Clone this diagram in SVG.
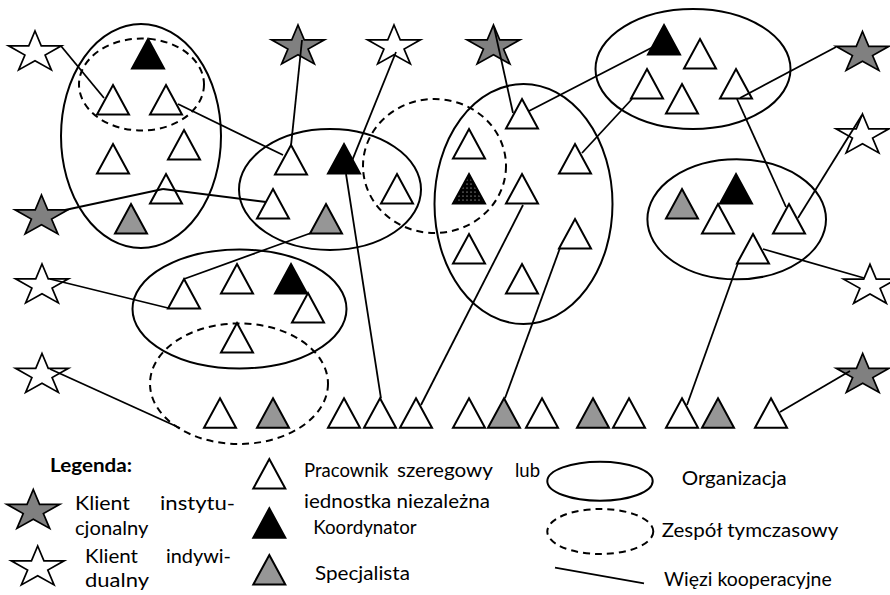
<svg xmlns="http://www.w3.org/2000/svg" xmlns:xlink="http://www.w3.org/1999/xlink" width="890" height="595" viewBox="0 0 890 595">
<defs>
<style>
.org{fill:none;stroke:#000;stroke-width:2}
.tmp{fill:none;stroke:#000;stroke-width:2;stroke-dasharray:7 5}
.tw{fill:#fff;stroke:#000;stroke-width:2}
.tb{fill:#000;stroke:#000;stroke-width:2}
.tg{fill:#969696;stroke:#000;stroke-width:2}
.td{fill:url(#dots);stroke:#000;stroke-width:2}
.sw{fill:#fff;stroke:#000;stroke-width:1.7}
.sg{fill:#808080;stroke:#000;stroke-width:1.7}
.ln{stroke:#000;stroke-width:1.8;fill:none}
text{font-family:Lato,"Open Sans","Liberation Sans",sans-serif;font-size:18.5px;fill:#000}
.b{font-weight:bold}
</style>
<pattern id="dots" width="4" height="4" patternUnits="userSpaceOnUse"><rect width="4" height="4" fill="#000"/><circle cx="2" cy="2" r="0.55" fill="#fff"/></pattern>
<path id="tri" d="M0,0 L16,29.5 L-16,29.5 Z"/>
<path id="star" d="M0,-21.5 L6.24,-6.64 L26.44,-6.64 L10.09,2.54 L16.35,17.39 L0,8.21 L-16.35,17.39 L-10.09,2.54 L-26.44,-6.64 L-6.24,-6.64 Z"/>
</defs>
<rect width="890" height="595" fill="#fff"/>

<g id="organizations">
<ellipse id="org-a" class="org" cx="141" cy="136" rx="80" ry="112"/>
<ellipse id="team-a" class="tmp" cx="141.5" cy="84.5" rx="62.5" ry="46"/>
<ellipse id="org-b" class="org" cx="330" cy="189.5" rx="91" ry="60.5"/>
<ellipse id="team-b" class="tmp" cx="434.5" cy="166" rx="71.5" ry="67"/>
<ellipse id="org-c" class="org" cx="523.5" cy="204" rx="89" ry="120"/>
<ellipse id="org-d" class="org" cx="693" cy="69" rx="97.5" ry="60"/>
<ellipse id="org-e" class="org" cx="736.7" cy="219.3" rx="89.3" ry="60"/>
<ellipse id="org-f" class="org" cx="239.5" cy="309" rx="107" ry="59.5"/>
<ellipse id="team-f" class="tmp" cx="239" cy="383.7" rx="89" ry="60.3"/>
</g>

<g id="n-t1"><use xlink:href="#tri" class="tb" x="148" y="39"/></g>
<g id="n-t2"><use xlink:href="#tri" class="tw" x="113" y="85"/></g>
<g id="n-t3"><use xlink:href="#tri" class="tw" x="166" y="85"/></g>
<g id="n-t4"><use xlink:href="#tri" class="tw" x="184" y="130"/></g>
<g id="n-t5"><use xlink:href="#tri" class="tw" x="113" y="144"/></g>
<g id="n-t6"><use xlink:href="#tri" class="tw" x="166" y="174"/></g>
<g id="n-t7"><use xlink:href="#tri" class="tg" x="131" y="204"/></g>
<g id="n-t8"><use xlink:href="#tri" class="tw" x="291" y="145"/></g>
<g id="n-t9"><use xlink:href="#tri" class="tb" x="344" y="144"/></g>
<g id="n-t10"><use xlink:href="#tri" class="tw" x="397" y="174"/></g>
<g id="n-t11"><use xlink:href="#tri" class="tw" x="273" y="189"/></g>
<g id="n-t12"><use xlink:href="#tri" class="tg" x="326" y="204"/></g>
<g id="n-t13"><use xlink:href="#tri" class="tw" x="522" y="99"/></g>
<g id="n-t14"><use xlink:href="#tri" class="tw" x="469" y="129"/></g>
<g id="n-t15"><use xlink:href="#tri" class="tw" x="575" y="144"/></g>
<g id="n-t16"><use xlink:href="#tri" class="td" x="469" y="174"/></g>
<g id="n-t17"><use xlink:href="#tri" class="tw" x="522" y="174"/></g>
<g id="n-t18"><use xlink:href="#tri" class="tw" x="469" y="234"/></g>
<g id="n-t19"><use xlink:href="#tri" class="tw" x="575" y="219"/></g>
<g id="n-t20"><use xlink:href="#tri" class="tw" x="522" y="264"/></g>
<g id="n-t21"><use xlink:href="#tri" class="tb" x="664" y="25"/></g>
<g id="n-t22"><use xlink:href="#tri" class="tw" x="700" y="39"/></g>
<g id="n-t23"><use xlink:href="#tri" class="tw" x="647" y="69"/></g>
<g id="n-t24"><use xlink:href="#tri" class="tw" x="682" y="84"/></g>
<g id="n-t25"><use xlink:href="#tri" class="tw" x="736" y="69"/></g>
<g id="n-t26"><use xlink:href="#tri" class="tg" x="682" y="189"/></g>
<g id="n-t27"><use xlink:href="#tri" class="tb" x="736" y="174"/></g>
<g id="n-t28"><use xlink:href="#tri" class="tw" x="718" y="204"/></g>
<g id="n-t29"><use xlink:href="#tri" class="tw" x="789" y="204"/></g>
<g id="n-t30"><use xlink:href="#tri" class="tw" x="753" y="234"/></g>
<g id="n-t31"><use xlink:href="#tri" class="tw" x="184" y="279"/></g>
<g id="n-t32"><use xlink:href="#tri" class="tw" x="237" y="264"/></g>
<g id="n-t33"><use xlink:href="#tri" class="tb" x="291" y="264"/></g>
<g id="n-t34"><use xlink:href="#tri" class="tw" x="308" y="293"/></g>
<g id="n-t35"><use xlink:href="#tri" class="tw" x="237" y="323"/></g>
<g id="n-b1"><use xlink:href="#tri" class="tw" x="220" y="398.3"/></g>
<g id="n-b2"><use xlink:href="#tri" class="tg" x="273" y="398.3"/></g>
<g id="n-b3"><use xlink:href="#tri" class="tw" x="344" y="398.3"/></g>
<g id="n-b4"><use xlink:href="#tri" class="tw" x="380" y="398.3"/></g>
<g id="n-b5"><use xlink:href="#tri" class="tw" x="416" y="398.3"/></g>
<g id="n-b6"><use xlink:href="#tri" class="tw" x="469" y="398.3"/></g>
<g id="n-b7"><use xlink:href="#tri" class="tg" x="504" y="398.3"/></g>
<g id="n-b8"><use xlink:href="#tri" class="tw" x="542" y="398.3"/></g>
<g id="n-b9"><use xlink:href="#tri" class="tg" x="593" y="398.3"/></g>
<g id="n-b10"><use xlink:href="#tri" class="tw" x="629" y="398.3"/></g>
<g id="n-b11"><use xlink:href="#tri" class="tw" x="682" y="398.3"/></g>
<g id="n-b12"><use xlink:href="#tri" class="tg" x="718" y="398.3"/></g>
<g id="n-b13"><use xlink:href="#tri" class="tw" x="771" y="398.3"/></g>

<g id="n-s1"><use xlink:href="#star" class="sw" x="35" y="52.5"/></g>
<g id="n-s2"><use xlink:href="#star" class="sg" x="41.5" y="216.5"/></g>
<g id="n-s3"><use xlink:href="#star" class="sg" x="298" y="46.5"/></g>
<g id="n-s4"><use xlink:href="#star" class="sw" x="394" y="46.5"/></g>
<g id="n-s5"><use xlink:href="#star" class="sg" x="493.5" y="46.5"/></g>
<g id="n-s6"><use xlink:href="#star" class="sg" x="862.5" y="53"/></g>
<g id="n-s7"><use xlink:href="#star" class="sw" x="862.5" y="135.5"/></g>
<g id="n-s8"><use xlink:href="#star" class="sw" x="870" y="285.8"/></g>
<g id="n-s9"><use xlink:href="#star" class="sw" x="42" y="285.5"/></g>
<g id="n-s10"><use xlink:href="#star" class="sw" x="42" y="375"/></g>
<g id="n-s11"><use xlink:href="#star" class="sg" x="862.7" y="375"/></g>

<g id="connectors" class="ln">
<line x1="61" y1="46" x2="104" y2="98"/>
<line x1="178" y1="104" x2="283" y2="155"/>
<line x1="65" y1="210" x2="163" y2="189"/>
<line x1="163" y1="189" x2="266" y2="202"/>
<line x1="302" y1="40" x2="291" y2="145.7"/>
<line x1="396" y1="52" x2="351.7" y2="161.7"/>
<line x1="346" y1="174" x2="381" y2="398.3"/>
<line x1="494" y1="27" x2="513" y2="113"/>
<line x1="529" y1="111" x2="653" y2="47"/>
<line x1="582" y1="153" x2="632" y2="99"/>
<line x1="523" y1="205" x2="421" y2="405"/>
<line x1="560" y1="248" x2="505" y2="398.3"/>
<line x1="836" y1="47" x2="740" y2="98"/>
<line x1="737" y1="99" x2="786" y2="207"/>
<line x1="798" y1="218" x2="862" y2="115"/>
<line x1="763" y1="249" x2="864" y2="278"/>
<line x1="738" y1="263" x2="687" y2="405"/>
<line x1="50" y1="279" x2="168" y2="308"/>
<line x1="184" y1="279" x2="311" y2="233"/>
<line x1="50" y1="369" x2="180" y2="428"/>
<line x1="780" y1="412" x2="850" y2="371"/>
</g>

<g id="legend">
<text class="b" x="50" y="471.7" textLength="82" lengthAdjust="spacingAndGlyphs">Legenda:</text>
<use xlink:href="#star" class="sg" x="33.3" y="511"/>
<text x="75" y="510" textLength="55" lengthAdjust="spacingAndGlyphs">Klient</text>
<text x="160" y="510" textLength="75" lengthAdjust="spacingAndGlyphs">instytu-</text>
<text x="75" y="535" textLength="73.3" lengthAdjust="spacingAndGlyphs">cjonalny</text>
<use xlink:href="#star" class="sw" x="37.7" y="567.5"/>
<text x="85" y="562.7" textLength="53" lengthAdjust="spacingAndGlyphs">Klient</text>
<text x="166" y="562.7" textLength="65" lengthAdjust="spacingAndGlyphs">indywi-</text>
<text x="85" y="586.7" textLength="64" lengthAdjust="spacingAndGlyphs">dualny</text>
<use xlink:href="#tri" class="tw" x="269.3" y="459"/>
<use xlink:href="#tri" class="tb" x="269.3" y="508.3"/>
<use xlink:href="#tri" class="tg" x="269.3" y="555"/>
<text x="304" y="476.7">Pracownik</text>
<text x="397" y="476.7" textLength="96" lengthAdjust="spacingAndGlyphs">szeregowy</text>
<text x="540" y="476.7" text-anchor="end">lub</text>
<text x="304" y="507.7" textLength="186" lengthAdjust="spacingAndGlyphs">iednostka niezależna</text>
<text x="313.3" y="534" textLength="103.3" lengthAdjust="spacingAndGlyphs">Koordynator</text>
<text x="315" y="580" textLength="95" lengthAdjust="spacingAndGlyphs">Specjalista</text>
<ellipse class="org" cx="600" cy="481.2" rx="52.7" ry="19.5"/>
<text x="681.7" y="485" textLength="105" lengthAdjust="spacingAndGlyphs">Organizacja</text>
<ellipse class="tmp" cx="600.3" cy="531.5" rx="53" ry="22.5"/>
<text x="661.7" y="537" textLength="176.6" lengthAdjust="spacingAndGlyphs">Zespół tymczasowy</text>
<line class="ln" x1="555" y1="567.7" x2="644" y2="583.3"/>
<text x="664" y="586" textLength="167.7" lengthAdjust="spacingAndGlyphs">Więzi kooperacyjne</text>
</g>
</svg>
